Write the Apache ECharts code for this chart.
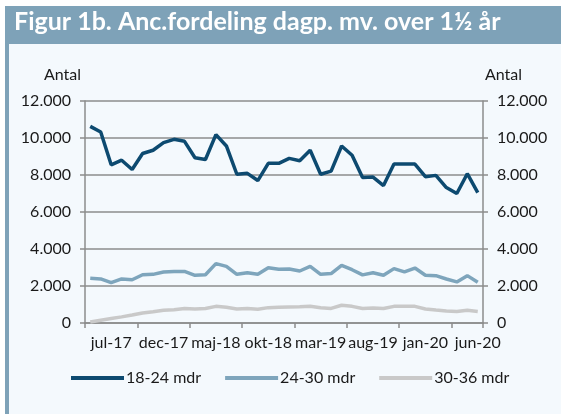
<!DOCTYPE html>
<html><head><meta charset="utf-8">
<script src="https://cdn.jsdelivr.net/npm/echarts@6/dist/echarts.min.js"></script>
<style>html,body{margin:0;padding:0;background:#fff}#c{width:561px;height:414px}</style>
</head><body><div id="c"></div>
<script>
const categories = ['maj-17','jun-17','jul-17','aug-17','sep-17','okt-17','nov-17','dec-17',
  'jan-18','feb-18','mar-18','apr-18','maj-18','jun-18','jul-18','aug-18','sep-18','okt-18','nov-18','dec-18',
  'jan-19','feb-19','mar-19','apr-19','maj-19','jun-19','jul-19','aug-19','sep-19','okt-19','nov-19','dec-19',
  'jan-20','feb-20','mar-20','apr-20','maj-20','jun-20'];
const s1824 = [10630,10320,8550,8800,8300,9160,9340,9750,9930,9820,8930,8840,10180,9570,8040,8090,7700,8630,8630,
  8900,8770,9340,8040,8210,9570,9070,7860,7890,7430,8590,8590,8590,7910,7980,7320,7000,8070,7050];
const s2430 = [2420,2380,2180,2380,2340,2610,2630,2760,2790,2790,2580,2610,3210,3060,2630,2720,2630,2990,2900,
  2920,2810,3060,2630,2670,3120,2880,2600,2720,2580,2940,2760,2970,2580,2560,2380,2220,2560,2200];
const s3036 = [50,150,240,330,430,540,610,690,720,780,760,780,900,850,760,780,740,830,850,
  870,880,900,830,790,960,900,780,810,780,900,900,900,760,700,650,620,690,620];
const seriesNames = ['18-24 mdr','24-30 mdr','30-36 mdr'];
const titleText = 'Figur 1b. Anc.fordeling dagp. mv. over 1½ år';
const yName = 'Antal';

const FONT = 'Lato';
const colors = ['#0d4a70','#7ea5bc','#c9c9c9'];
const axisGray = '#8c8c8c';
const fmt = v => String(v).replace(/\B(?=(\d{3})+(?!\d))/g, '.');

const chart = echarts.init(document.getElementById('c'), null, {renderer:'canvas'});
const yCommon = {
  type:'value', min:0, max:12000, interval:2000,
  axisLine:{show:true, lineStyle:{color:axisGray, width:1.5}},
  axisTick:{show:true, length:5, lineStyle:{color:axisGray, width:1.5}},
  axisLabel:{color:'#1a1a1a', fontFamily:FONT, fontSize:16, margin:14, formatter:fmt}
};
chart.setOption({
  backgroundColor:'#ffffff',
  animation:false,
  textStyle:{fontFamily:FONT},
  graphic:[
    {type:'rect', z:-10, shape:{x:5,y:6,width:556,height:408}, style:{fill:'#f4f9fd'}},
    {type:'rect', z:-9, shape:{x:5,y:6,width:556,height:38}, style:{fill:'#7ea2b8'}},
    {type:'rect', z:-9, shape:{x:5,y:6,width:4,height:408}, style:{fill:'#7ea2b8'}},
    {type:'text', left:14, top:9, style:{text:titleText, fill:'#ffffff', font:'bold 25px Lato'}},
    {type:'text', left:44, top:67, style:{text:yName, fill:'#1a1a1a', font:'16px Lato'}},
    {type:'text', left:485, top:67, style:{text:yName, fill:'#1a1a1a', font:'16px Lato'}}
  ],
  grid:{left:85, right:78, top:101, bottom:91, containLabel:false},
  legend:{
    left:66, top:365, itemGap:24, itemWidth:53, itemHeight:4, icon:'rect',
    textStyle:{fontFamily:FONT, fontSize:16, color:'#1a1a1a', padding:[0,0,0,-3]},
    data:seriesNames
  },
  xAxis:{
    type:'category', data:categories, boundaryGap:true,
    axisLine:{show:true, lineStyle:{color:axisGray, width:1.5}},
    axisTick:{show:true, length:5, interval:(i)=> i%5===0, lineStyle:{color:axisGray, width:1.5}},
    axisLabel:{interval:(i)=> i%5===2, color:'#1a1a1a', fontFamily:FONT, fontSize:16, margin:12},
    splitLine:{show:false}
  },
  yAxis:[
    Object.assign({}, yCommon, {position:'left', splitLine:{show:true, lineStyle:{color:axisGray, width:1.5}}}),
    Object.assign({}, yCommon, {position:'right', splitLine:{show:false}})
  ],
  series:[
    {name:seriesNames[2], type:'line', data:s3036, symbol:'none', lineStyle:{color:colors[2], width:3.5}, itemStyle:{color:colors[2]}, z:2},
    {name:seriesNames[1], type:'line', data:s2430, symbol:'none', lineStyle:{color:colors[1], width:3.5}, itemStyle:{color:colors[1]}, z:3},
    {name:seriesNames[0], type:'line', data:s1824, symbol:'none', lineStyle:{color:colors[0], width:3.5}, itemStyle:{color:colors[0]}, z:4}
  ]
});
</script></body></html>
